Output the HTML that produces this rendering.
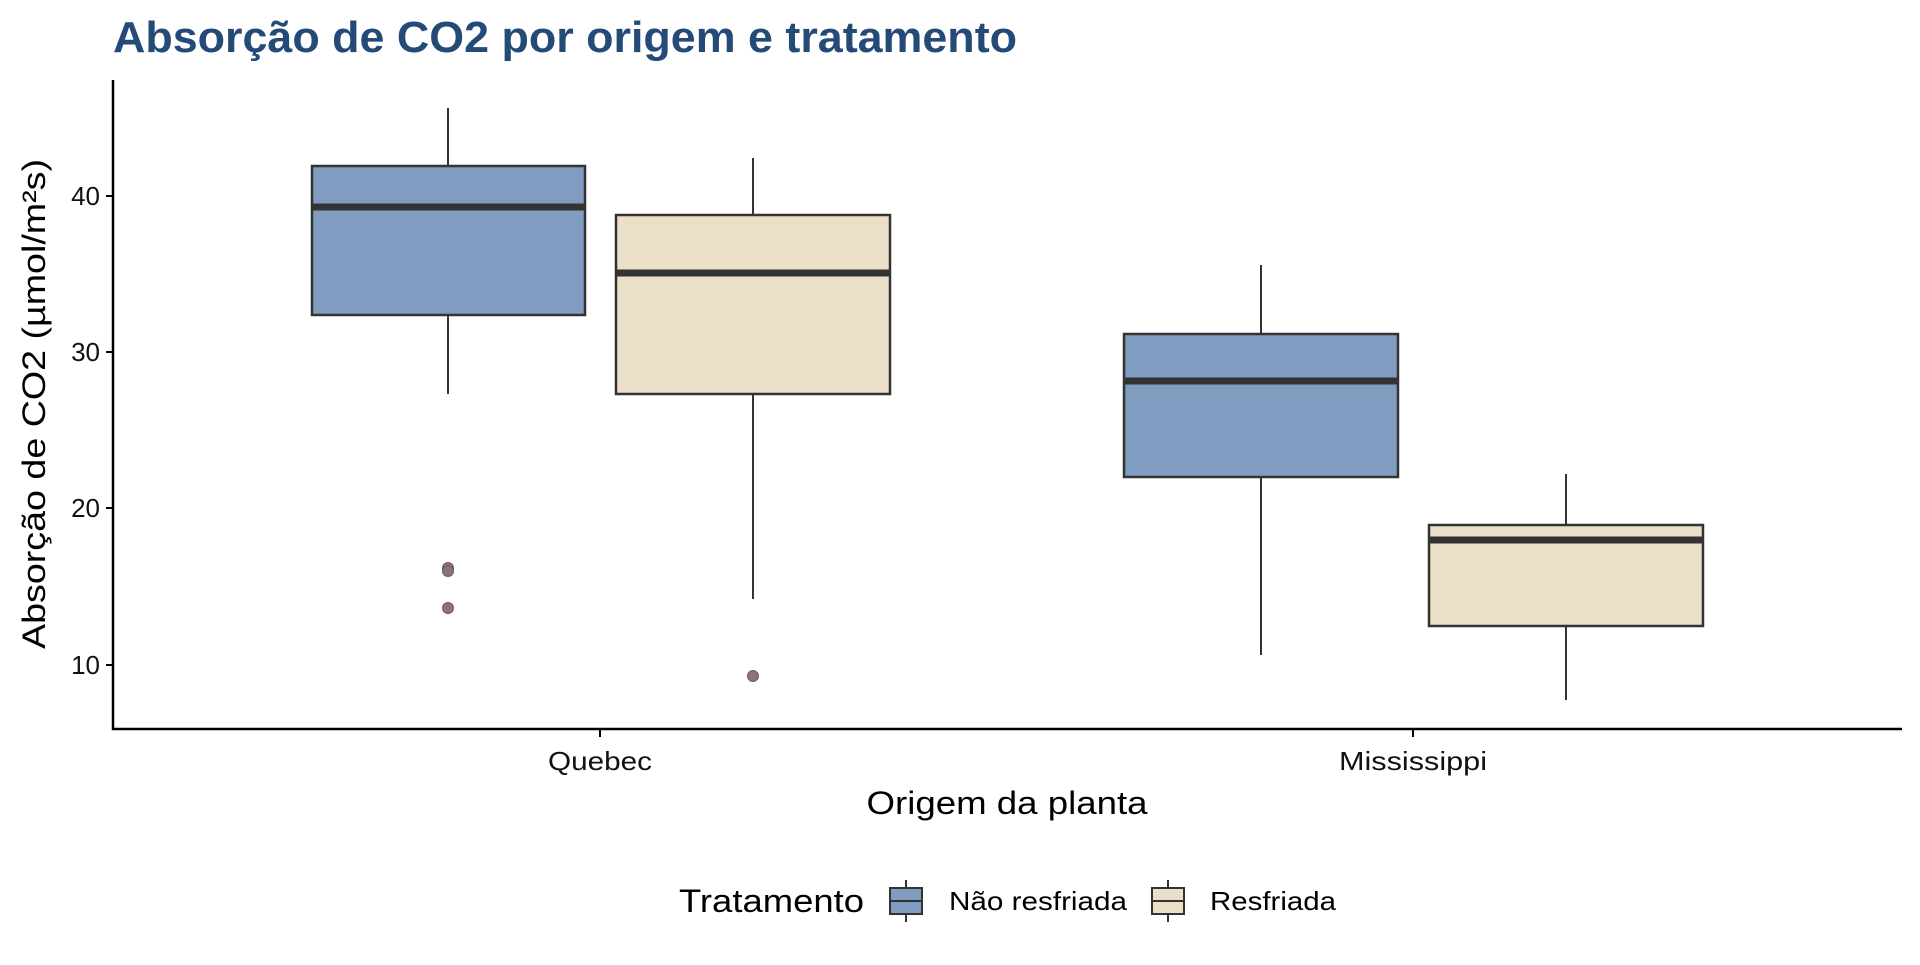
<!DOCTYPE html>
<html><head><style>body{margin:0;background:#fff}</style></head><body>
<svg width="1920" height="960" xmlns="http://www.w3.org/2000/svg" font-family="Liberation Sans, Arial, sans-serif">
<rect width="1920" height="960" fill="#fff"/>
<text x="113" y="52" font-size="44" font-weight="bold" fill="#244a78" textLength="904" lengthAdjust="spacingAndGlyphs">Absorção de CO2 por origem e tratamento</text>
<g stroke="#333" stroke-width="2">
<line x1="448" y1="108" x2="448" y2="166"/><line x1="448" y1="315" x2="448" y2="394"/>
<rect x="312" y="166" width="273" height="149" fill="#819cc1" stroke-width="2.5"/>
<line x1="312" y1="207" x2="585" y2="207" stroke-width="7"/>
<line x1="753" y1="158" x2="753" y2="215"/><line x1="753" y1="394" x2="753" y2="599"/>
<rect x="616" y="215" width="274" height="179" fill="#ebdfc8" stroke-width="2.5"/>
<line x1="616" y1="273" x2="890" y2="273" stroke-width="7"/>
<line x1="1261" y1="265" x2="1261" y2="334"/><line x1="1261" y1="477" x2="1261" y2="655"/>
<rect x="1124" y="334" width="274" height="143" fill="#819cc1" stroke-width="2.5"/>
<line x1="1124" y1="381" x2="1398" y2="381" stroke-width="7"/>
<line x1="1566" y1="474" x2="1566" y2="525"/><line x1="1566" y1="626" x2="1566" y2="700"/>
<rect x="1429" y="525" width="274" height="101" fill="#ebdfc8" stroke-width="2.5"/>
<line x1="1429" y1="540" x2="1703" y2="540" stroke-width="7"/>
</g>
<g fill="#8b7378" stroke="#6f5a5e" stroke-width="1">
<circle cx="448" cy="568" r="5.5"/><circle cx="448" cy="571" r="5.5"/><circle cx="448" cy="608" r="5.5"/><circle cx="753" cy="676" r="5.5"/>
</g>
<path d="M113 80 V729 H1902" stroke="#000" stroke-width="2.5" fill="none"/>
<g stroke="#000" stroke-width="2">
<line x1="106" y1="196" x2="113" y2="196"/><line x1="106" y1="352" x2="113" y2="352"/><line x1="106" y1="508" x2="113" y2="508"/><line x1="106" y1="665" x2="113" y2="665"/>
<line x1="600" y1="729" x2="600" y2="737"/><line x1="1413" y1="729" x2="1413" y2="737"/>
</g>
<g font-size="26" fill="#111" text-anchor="end">
<text x="100" y="205">40</text><text x="100" y="361">30</text><text x="100" y="517">20</text><text x="100" y="674">10</text>
</g>
<g font-size="26" fill="#111" text-anchor="middle">
<text x="600" y="770" textLength="104" lengthAdjust="spacingAndGlyphs">Quebec</text><text x="1413" y="770" textLength="148" lengthAdjust="spacingAndGlyphs">Mississippi</text>
</g>
<text x="1007" y="814" font-size="32" text-anchor="middle" fill="#000" textLength="281" lengthAdjust="spacingAndGlyphs">Origem da planta</text>
<text transform="translate(45,404) rotate(-90)" font-size="32" text-anchor="middle" fill="#000" textLength="490" lengthAdjust="spacingAndGlyphs">Absorção de CO2 (µmol/m²s)</text>
<text x="679" y="912" font-size="32" fill="#000" textLength="185" lengthAdjust="spacingAndGlyphs">Tratamento</text>
<g stroke="#333" stroke-width="2">
<line x1="906" y1="880" x2="906" y2="922"/>
<rect x="890" y="888" width="32" height="26" fill="#819cc1"/>
<line x1="890" y1="901" x2="922" y2="901"/>
<line x1="1168" y1="880" x2="1168" y2="922"/>
<rect x="1152" y="888" width="32" height="26" fill="#ebdfc8"/>
<line x1="1152" y1="901" x2="1184" y2="901"/>
</g>
<g font-size="26" fill="#000"><text x="949" y="910" textLength="178" lengthAdjust="spacingAndGlyphs">Não resfriada</text><text x="1210" y="910" textLength="126" lengthAdjust="spacingAndGlyphs">Resfriada</text></g>
</svg>
</body></html>
